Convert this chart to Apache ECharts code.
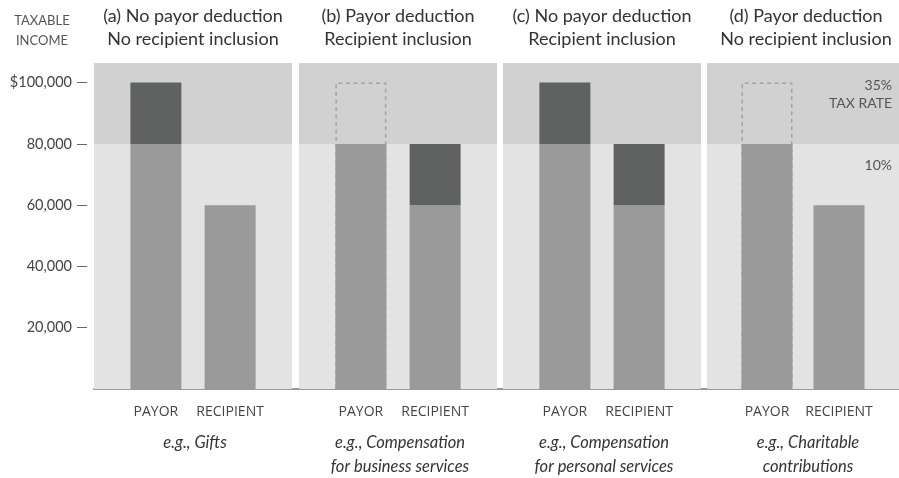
<!DOCTYPE html>
<html>
<head>
<meta charset="utf-8">
<script src="https://cdn.jsdelivr.net/npm/echarts@6/dist/echarts.min.js"></script>
<style>
html,body{margin:0;padding:0;background:#fff;}
#chart{width:899px;height:478px;}
</style>
</head>
<body>
<div id="chart"></div>
<script>
// ---- data ----
var panelTitles = [
  '(a) No payor deduction\nNo recipient inclusion',
  '(b) Payor deduction\nRecipient inclusion',
  '(c) No payor deduction\nRecipient inclusion',
  '(d) Payor deduction\nNo recipient inclusion'
];
var panelExamples = [
  'e.g., Gifts',
  'e.g., Compensation\nfor business services',
  'e.g., Compensation\nfor personal services',
  'e.g., Charitable\ncontributions'
];
var categories = ['PAYOR', 'RECIPIENT'];
// income taxed at the lower bracket
var baseIncome = [[80000, 60000], [80000, 60000], [80000, 60000], [80000, 60000]];
// income taxed (dark portion)
var taxedIncome = [[20000, 0], [0, 20000], [20000, 20000], [0, 0]];
// deducted income (dashed outline)
var deductedIncome = [[0, 0], [20000, 0], [0, 0], [20000, 0]];
var yTicks = [20000, 40000, 60000, 80000, 100000];
var bracketTop = 80000;
var yMax = 106400;
var bracketLabels = ['35%\nTAX RATE', '10%'];

// ---- layout ----
var panelLeft = [94, 299, 503, 707];
var panelWidth = 198;
var gridTop = 63, gridBottom = 89;
var slots = 8, slotIdx = [2, 5];
var font = 'Lato';

function slotData(vals) {
  var arr = [];
  for (var i = 0; i < slots; i++) arr.push('-');
  slotIdx.forEach(function (s, k) { arr[s] = vals[k] === 0 ? '-' : vals[k]; });
  return arr;
}
var slotCats = [];
for (var i = 0; i < slots; i++) slotCats.push('');
slotIdx.forEach(function (s, k) { slotCats[s] = categories[k]; });

var grids = [], xAxes = [], yAxes = [], series = [], graphics = [];
panelLeft.forEach(function (left, p) {
  grids.push({left: left, width: panelWidth, top: gridTop, bottom: gridBottom, containLabel: false});
  xAxes.push({
    type: 'category', gridIndex: p, data: slotCats,
    axisLine: {show: false}, axisTick: {show: false},
    axisLabel: {interval: 0, margin: 16, color: '#444', fontFamily: 'Open Sans', fontSize: 14}
  });
  yAxes.push({
    type: 'value', gridIndex: p, min: 0, max: yMax, interval: 20000,
    show: p === 0, offset: 7,
    axisLine: {show: false},
    splitLine: {show: false},
    axisTick: {show: true, length: 10, customValues: yTicks, lineStyle: {color: '#666', width: 1}},
    axisLabel: {
      customValues: yTicks, margin: 15, color: '#444', fontFamily: font, fontSize: 14.5,
      formatter: function (v) {
        var s = v.toLocaleString('en-US');
        return v === 100000 ? '$' + s : s;
      }
    }
  });
  var bgLabelUpper = p === 3 ? {show: true, position: 'insideTopRight', offset: [-2, 8], formatter: bracketLabels[0], color: '#555', fontFamily: font, fontSize: 14, align: 'right', lineHeight: 18} : {show: false};
  var bgLabelLower = p === 3 ? {show: true, position: 'insideTopRight', offset: [-2, 10], formatter: bracketLabels[1], color: '#555', fontFamily: font, fontSize: 14, align: 'right'} : {show: false};
  series.push({
    type: 'line', xAxisIndex: p, yAxisIndex: p, data: [], z: 1, silent: true,
    markArea: {
      silent: true,
      data: [
        [{yAxis: bracketTop, itemStyle: {color: '#d1d1d1'}, label: bgLabelUpper}, {yAxis: yMax}],
        [{yAxis: 0, itemStyle: {color: '#e3e3e3'}, label: bgLabelLower}, {yAxis: bracketTop}]
      ]
    }
  });
  // dashed outline: income before the deduction (base + deducted), drawn behind the base bar
  var gross = baseIncome[p].map(function (v, k) { return deductedIncome[p][k] > 0 ? v + deductedIncome[p][k] : 0; });
  series.push({
    type: 'bar', xAxisIndex: p, yAxisIndex: p, barWidth: 51, barGap: '-100%', z: 2,
    data: slotData(gross),
    itemStyle: {color: 'rgba(0,0,0,0)', borderColor: '#a3a3a3', borderWidth: 1.5, borderType: [4, 3.5]}
  });
  series.push({
    type: 'bar', xAxisIndex: p, yAxisIndex: p, stack: 's' + p, barWidth: 51, barGap: '-100%', z: 3,
    data: slotData(baseIncome[p]), itemStyle: {color: '#9a9a9a'}
  });
  series.push({
    type: 'bar', xAxisIndex: p, yAxisIndex: p, stack: 's' + p, barWidth: 51, barGap: '-100%', z: 4,
    data: slotData(taxedIncome[p]), itemStyle: {color: '#606261'}
  });
  var cx = left + panelWidth / 2;
  graphics.push({type: 'text', x: cx, y: 5, style: {text: panelTitles[p], align: 'center', verticalAlign: 'top', fill: '#333', font: '18px ' + font, lineHeight: 23}});
  graphics.push({type: 'text', x: cx + 2, y: 431, style: {text: panelExamples[p], align: 'center', verticalAlign: 'top', fill: '#333', font: 'italic 16.5px ' + font, lineHeight: 24}});
});
// baseline grid
grids.push({left: 94, right: -6, top: gridTop, bottom: gridBottom});
xAxes.push({type: 'value', gridIndex: 4, min: 0, max: 1, axisLine: {show: true, lineStyle: {color: '#999', width: 2}}, axisTick: {show: false}, axisLabel: {show: false}, splitLine: {show: false}});
yAxes.push({type: 'value', gridIndex: 4, min: 0, max: yMax, show: false});

graphics.push({type: 'text', x: 42, y: 11, style: {text: 'TAXABLE\nINCOME', align: 'center', verticalAlign: 'top', fill: '#555', font: '13px ' + font, lineHeight: 20}});

var chart = echarts.init(document.getElementById('chart'), null, {renderer: 'canvas'});
chart.setOption({
  animation: false,
  backgroundColor: '#fff',
  grid: grids, xAxis: xAxes, yAxis: yAxes, series: series, graphic: graphics
});
</script>
</body>
</html>
